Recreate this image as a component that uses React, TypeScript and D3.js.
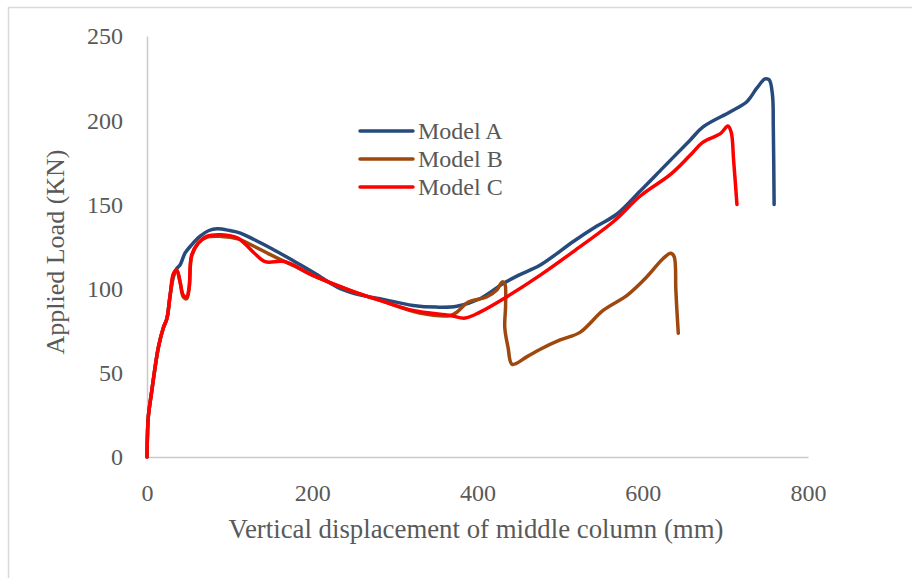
import React, { useEffect, useRef } from "react"
import * as d3 from "d3"

// displacement (mm), load (KN)
const modelA: [number, number][] = [
  [0, 0], [0.5, 12], [1.6, 24], [6, 40], [13.7, 65], [20, 77], [24, 82], [28, 96],
  [32, 107], [36, 112], [40, 114], [46, 121], [54, 126], [64, 131], [75, 134.5],
  [85, 135.5], [100, 134.5], [113, 133], [130, 129], [150, 124], [179, 116],
  [200, 110], [234, 100], [260, 96], [282, 94], [322, 90], [350, 89], [375, 89.5],
  [403, 94], [431, 103], [450, 108], [476, 114], [516, 128], [544, 137], [568, 144],
  [597, 158], [625, 172], [657, 188], [673, 196], [706, 205], [726, 211], [738, 219],
  [748, 224.5], [753, 224], [757, 215], [758, 196], [759, 150]
]

const modelB: [number, number][] = [
  [0, 0], [0.5, 12], [1.6, 24], [6, 40], [13.7, 65], [20, 77], [24, 82], [28, 96],
  [32, 108], [36, 111], [40, 104], [44, 95], [48, 94], [51, 100], [54, 119], [62, 127],
  [72, 130.5], [90, 131], [110, 129.5], [130, 125], [150, 120], [180, 113], [200, 108],
  [250, 98], [282, 93], [330, 85.5], [367, 84], [375, 86], [389, 92], [411, 95],
  [423, 99], [430, 104], [433, 103], [434, 90], [433, 77], [437, 65], [442, 55],
  [460, 59.6], [476, 64], [500, 69.5], [524, 74], [552, 87], [581, 96], [605, 107],
  [625, 118], [634, 121], [638, 119], [640, 100], [641, 90], [643, 73.5]
]

const modelC: [number, number][] = [
  [0, 0], [0.5, 12], [1.6, 24], [6, 40], [13.7, 65], [20, 77], [24, 82], [28, 96],
  [32, 109], [36, 111], [40, 104], [44, 96], [48, 95], [51, 101], [54, 120], [62, 127],
  [72, 131], [90, 132], [110, 130], [130, 121], [143, 116], [167, 116], [200, 108],
  [246, 99], [282, 93], [322, 87], [367, 84], [385, 82.5], [403, 86], [435, 95],
  [476, 108], [516, 122], [565, 140], [597, 155], [634, 168], [657, 179], [673, 187],
  [694, 192], [703, 196.5], [707, 193], [710, 176], [714, 150]
]

const seriesNames = ["Model A", "Model B", "Model C"]
const seriesColors = ["#264a7c", "#9e480e", "#ff0000"]
const xTicks = [0, 200, 400, 600, 800]
const yTicks = [0, 50, 100, 150, 200, 250]

const FONT = "'Liberation Serif', 'Times New Roman', serif"
const TEXT = "#595959"
const AXIS = "#c9c9c9"

export default function App() {
  const xRef = useRef<SVGGElement>(null)
  const yRef = useRef<SVGGElement>(null)

  const x = d3.scaleLinear().domain([0, 800]).range([147, 808])
  const y = d3.scaleLinear().domain([0, 250]).range([457, 36])

  const line = d3
    .line<[number, number]>()
    .x(d => x(d[0]))
    .y(d => y(d[1]))
    .curve(d3.curveCatmullRom.alpha(0.5))

  useEffect(() => {
    document.body.style.margin = "0"
    const gx = d3.select(xRef.current!)
    gx.call(d3.axisBottom(x).tickValues(xTicks).tickSize(0).tickPadding(0).tickFormat(d3.format("d")))
    gx.select(".domain").attr("stroke", AXIS).attr("stroke-width", 1.5)
    gx.selectAll("text")
      .attr("y", 44)
      .attr("dy", 0)
      .attr("fill", TEXT)
      .style("font-family", FONT)
      .style("font-size", "24px")

    const gy = d3.select(yRef.current!)
    gy.call(d3.axisLeft(y).tickValues(yTicks).tickSize(0).tickPadding(0).tickFormat(d3.format("d")))
    gy.select(".domain").attr("stroke", AXIS).attr("stroke-width", 1.5)
    gy.selectAll("text")
      .attr("x", -24)
      .attr("dy", "0.33em")
      .attr("fill", TEXT)
      .style("font-family", FONT)
      .style("font-size", "24px")
  }, [])

  const data = [modelA, modelB, modelC]

  return (
    <svg width={912} height={578} style={{ display: "block", background: "#fff" }}>
      <rect x={8.5} y={7.5} width={1000} height={1000} fill="none" stroke="#d9d9d9" strokeWidth={1.5} />
      <g ref={xRef} transform={"translate(0," + y(0) + ")"} />
      <g ref={yRef} transform={"translate(" + x(0) + ",0)"} />

      {data.map((d, i) => (
        <path
          key={i}
          d={line(d) || ""}
          fill="none"
          stroke={seriesColors[i]}
          strokeWidth={3.5}
          strokeLinejoin="round"
          strokeLinecap="round"
        />
      ))}

      <g>
        {seriesNames.map((name, i) => (
          <g key={name} transform={"translate(0," + (131 + i * 28) + ")"}>
            <line x1={360} x2={413} y1={0} y2={0} stroke={seriesColors[i]} strokeWidth={3.5} strokeLinecap="round" />
            <text x={418} y={8} fill={TEXT} style={{ fontFamily: FONT, fontSize: "24px" }}>
              {name}
            </text>
          </g>
        ))}
      </g>

      <text
        x={476}
        y={538}
        textAnchor="middle"
        fill={TEXT}
        style={{ fontFamily: FONT, fontSize: "26.8px" }}
      >
        Vertical displacement of middle column (mm)
      </text>
      <text
        transform="translate(64,252) rotate(-90)"
        textAnchor="middle"
        fill={TEXT}
        style={{ fontFamily: FONT, fontSize: "26px" }}
      >
        Applied Load (KN)
      </text>
    </svg>
  )
}
